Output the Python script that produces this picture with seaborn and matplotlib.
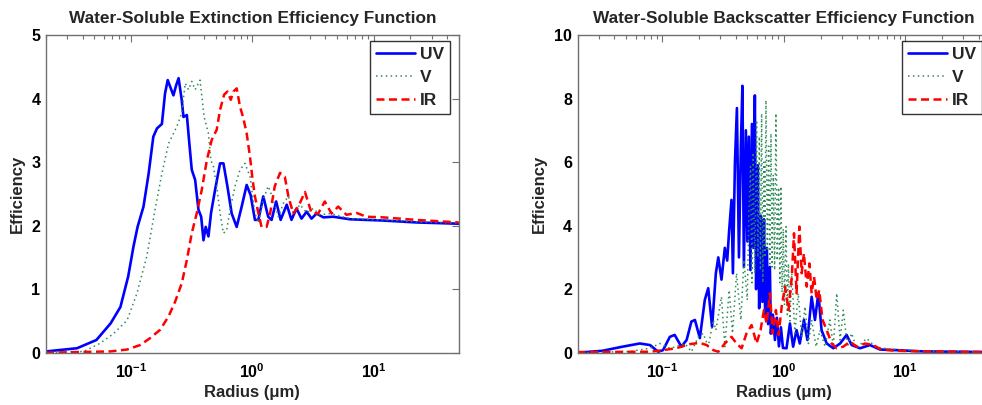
import matplotlib
matplotlib.use("Agg")
import matplotlib.pyplot as plt
import seaborn as sns
import pandas as pd
from matplotlib.ticker import LogLocator, FixedLocator, FixedFormatter, NullFormatter

# ---------------- data ----------------
# Extinction efficiency
ext_uv_r = [0.02, 0.036, 0.052, 0.068, 0.082, 0.095, 0.105, 0.1135, 0.127, 0.14, 0.153, 0.164, 0.18, 0.191, 0.201,
            0.213, 0.224, 0.236, 0.247, 0.262, 0.271, 0.289, 0.301, 0.317, 0.338, 0.36, 0.379, 0.396, 0.413, 0.435,
            0.457, 0.493, 0.542, 0.578, 0.623, 0.676, 0.743, 0.817, 0.898, 0.968, 1.05, 1.12, 1.23, 1.35, 1.44,
            1.57, 1.71, 1.92, 2.10, 2.31, 2.54, 2.80, 3.07, 3.38, 3.84, 4.63, 6.35, 11.9, 22.4, 50]
ext_uv = [0.02, 0.07, 0.2, 0.46, 0.72, 1.2, 1.67, 1.98, 2.3, 2.82, 3.4, 3.53, 3.6, 4.08, 4.29,
          4.16, 4.05, 4.21, 4.32, 3.98, 3.71, 3.74, 3.35, 2.88, 2.72, 2.25, 2.14, 1.77, 1.98, 1.83,
          2.2, 2.56, 2.98, 2.98, 2.62, 2.19, 1.98, 2.3, 2.64, 2.48, 2.09, 2.09, 2.46, 2.14, 2.09,
          2.38, 2.09, 2.33, 2.09, 2.27, 2.11, 2.22, 2.11, 2.19, 2.13, 2.14, 2.10, 2.08, 2.05, 2.03]

ext_v_r = [0.02, 0.041, 0.056, 0.072, 0.093, 0.112, 0.135, 0.158, 0.18, 0.204, 0.239, 0.262, 0.28, 0.298, 0.317,
           0.338, 0.371, 0.401, 0.435, 0.455, 0.478, 0.509, 0.542, 0.578, 0.615, 0.655, 0.72, 0.792, 0.87, 0.957,
           1.05, 1.12, 1.23, 1.35, 1.49, 1.64, 1.80, 1.98, 2.17, 2.47, 2.80, 3.17, 3.6, 4.35, 6.35, 11.9, 22.4, 50]
ext_v = [0.0, 0.02, 0.15, 0.3, 0.51, 0.93, 1.51, 2.25, 2.82, 3.29, 3.56, 3.77, 4.24, 4.14, 4.27,
         4.14, 4.29, 3.71, 3.45, 3.03, 2.93, 2.62, 2.2, 1.88, 1.93, 2.25, 2.62, 2.88, 2.98, 2.77,
         2.2, 2.04, 2.41, 2.62, 2.41, 2.14, 2.35, 2.46, 2.2, 2.33, 2.2, 2.27, 2.17, 2.19, 2.11, 2.09, 2.06, 2.04]

ext_ir_r = [0.02, 0.068, 0.093, 0.119, 0.144, 0.174, 0.204, 0.231, 0.262, 0.289, 0.317, 0.348, 0.383, 0.422, 0.463,
            0.509, 0.542, 0.585, 0.623, 0.664, 0.698, 0.743, 0.792, 0.843, 0.898, 0.957, 1.005, 1.05, 1.12, 1.19,
            1.31, 1.40, 1.53, 1.69, 1.85, 1.98, 2.17, 2.39, 2.71, 3.07, 3.48, 3.95, 4.49, 5.09, 5.96, 7.2, 8.7,
            11.9, 22.4, 50]
ext_ir = [0.0, 0.02, 0.05, 0.12, 0.23, 0.36, 0.57, 0.8, 1.09, 1.46, 1.88, 2.19, 2.56, 3.03, 3.35,
          3.51, 3.82, 4.06, 4.11, 3.98, 4.11, 4.16, 3.87, 3.69, 3.45, 3.08, 2.72, 2.46, 2.2, 1.98,
          1.98, 2.19, 2.62, 2.83, 2.77, 2.46, 2.19, 2.3, 2.53, 2.2, 2.19, 2.38, 2.19, 2.3, 2.17, 2.2, 2.14,
          2.13, 2.09, 2.05]

# Backscatter efficiency
bsc_uv_r = [0.02, 0.032, 0.047, 0.065, 0.079, 0.092, 0.101, 0.115, 0.126, 0.143, 0.158, 0.173, 0.185, 0.203, 0.223,
            0.238, 0.256, 0.275, 0.288, 0.306, 0.326, 0.341, 0.354, 0.37, 0.380, 0.395, 0.410, 0.426, 0.442, 0.455,
            0.468, 0.486, 0.50, 0.514, 0.53, 0.545, 0.56, 0.576, 0.59, 0.61, 0.625, 0.646, 0.665, 0.685, 0.70,
            0.724, 0.74, 0.766, 0.78, 0.811, 0.843, 0.875, 0.909, 0.944, 0.981,
            1.05, 1.12, 1.19, 1.27, 1.35, 1.46, 1.56, 1.69, 1.80, 1.92, 2.04, 2.25, 2.55, 2.90,
            3.28, 3.61, 4.23, 5.11, 6.18, 8.49, 14.1, 50]
bsc_uv = [0.0, 0.06, 0.19, 0.29, 0.24, 0.03, 0.08, 0.5, 0.56, 0.19, 0.4, 0.98, 1.03, 0.46, 1.66,
          2.03, 0.81, 2.5, 3.0, 2.3, 3.3, 2.9, 3.86, 4.81, 2.5, 6.0, 7.7, 3.0, 6.5, 8.4,
          2.7, 7.0, 3.5, 6.8, 2.6, 7.2, 3.3, 8.1, 2.0, 5.9, 1.4, 4.3, 1.6, 4.2, 1.2,
          3.3, 0.9, 2.7, 0.6, 1.2, 0.4, 1.1, 0.2, 0.8, 0.15,
          0.14, 0.92, 0.19, 0.71, 0.29, 1.03, 0.4, 1.76, 1.03, 1.87, 0.71, 0.29, 0.14, 0.29,
          0.56, 0.24, 0.14, 0.24, 0.1, 0.08, 0.04, 0.02]

bsc_v_r = [0.02, 0.054, 0.079, 0.095, 0.115, 0.130, 0.153, 0.173, 0.197, 0.216, 0.238, 0.262, 0.275, 0.306, 0.326,
           0.354, 0.377, 0.407, 0.442, 0.468, 0.499, 0.515, 0.531, 0.545, 0.558, 0.575, 0.595, 0.61, 0.627, 0.64,
           0.655, 0.67, 0.684, 0.697, 0.711, 0.73, 0.748, 0.765, 0.782, 0.80, 0.817, 0.838, 0.859, 0.88, 0.904,
           0.925, 0.944, 0.965, 0.988, 1.01, 1.04, 1.065, 1.09, 1.12, 1.16, 1.23, 1.31, 1.40, 1.49, 1.59, 1.69,
           1.84, 1.98, 2.18, 2.39, 2.55, 2.72, 2.90, 3.08, 3.33, 3.61, 3.97, 4.80, 5.62, 6.59, 8.49, 14.1, 50]
bsc_v = [0.0, 0.04, 0.14, 0.29, 0.14, 0.19, 0.29, 0.03, 0.5, 0.61, 0.19, 1.03, 0.71, 1.76, 0.19,
         1.97, 0.61, 2.5, 1.03, 2.92, 1.66, 4.5, 5.86, 2.2, 6.3, 2.5, 7.32, 3.0, 6.8, 2.6,
         7.53, 2.2, 6.0, 3.0, 7.95, 3.2, 6.5, 2.8, 6.9, 2.7, 5.6, 2.6, 7.53, 2.9, 5.2,
         2.2, 5.23, 1.9, 3.9, 1.5, 3.97, 1.2, 2.8, 1.0, 2.5, 0.61, 1.87, 0.5, 1.45, 0.29, 1.03,
         0.19, 0.71, 0.19, 1.03, 0.19, 1.87, 0.4, 1.34, 0.19, 0.61, 0.14, 0.45, 0.19, 0.14, 0.1, 0.05, 0.02]

bsc_ir_r = [0.02, 0.079, 0.101, 0.130, 0.168, 0.203, 0.231, 0.262, 0.288, 0.326, 0.37, 0.407, 0.448, 0.492, 0.541,
            0.595, 0.642, 0.684, 0.72, 0.767, 0.807, 0.859, 0.904, 0.958, 1.02, 1.09, 1.16, 1.21, 1.27, 1.34,
            1.40, 1.46, 1.54, 1.62, 1.69, 1.77, 1.86, 1.95, 2.08, 2.25, 2.47, 2.72, 3.08, 3.50, 3.97,
            4.66, 5.45, 6.3, 8.49, 14.1, 50]
bsc_ir = [0.02, 0.03, 0.08, 0.14, 0.27, 0.31, 0.24, 0.08, 0.03, 0.29, 0.5, 0.29, 0.14, 0.61, 0.87,
          0.29, 0.71, 1.34, 0.92, 1.87, 0.61, 1.34, 0.56, 1.45, 2.08, 1.34, 2.39, 3.76, 1.87, 3.97,
          2.5, 3.13, 2.08, 2.81, 1.87, 2.39, 1.66, 1.97, 1.03, 0.71, 0.29, 0.14, 0.19, 0.35, 0.19,
          0.29, 0.24, 0.1, 0.06, 0.04, 0.02]

series_names = ["UV", "V", "IR"]
titles = ["Water-Soluble Extinction Efficiency Function", "Water-Soluble Backscatter Efficiency Function"]
x_label = "Radius (\u03bcm)"
y_label = "Efficiency"
x_tick_values = [0.1, 1, 10]
x_tick_labels = [r"$\mathregular{10^{-1}}$", r"$\mathregular{10^{0}}$", r"$\mathregular{10^{1}}$"]
ext_y_ticks = [0, 1, 2, 3, 4, 5]
bsc_y_ticks = [0, 2, 4, 6, 8, 10]

# ---------------- style ----------------
sns.set_theme(style="white")
plt.rcParams["font.family"] = ["Liberation Sans", "DejaVu Sans"]
plt.rcParams["font.weight"] = "bold"
plt.rcParams["mathtext.fontset"] = "custom"
plt.rcParams["mathtext.rm"] = "Liberation Sans:bold"
plt.rcParams["mathtext.it"] = "Liberation Sans:bold"
plt.rcParams["mathtext.bf"] = "Liberation Sans:bold"

styles = {
    "UV": dict(color="#0000ff", linestyle="-", linewidth=1.9),
    "V": dict(color="#2e8b57", linestyle=(0, (1, 2.2)), linewidth=1.1),
    "IR": dict(color="#ff0000", linestyle=(0, (3.2, 1.8)), linewidth=1.8),
}

W, H = 982, 405
AX_W, AX_H = 412.7, 317.7
fig = plt.figure(figsize=(W / 100, H / 100), dpi=100)
ax1 = fig.add_axes([46 / W, (H - 352.7) / H, AX_W / W, AX_H / H])
ax2 = fig.add_axes([577.6 / W, (H - 352.7) / H, AX_W / W, AX_H / H])

panels = [
    (ax1, [(ext_uv_r, ext_uv), (ext_v_r, ext_v), (ext_ir_r, ext_ir)], ext_y_ticks, titles[0]),
    (ax2, [(bsc_uv_r, bsc_uv), (bsc_v_r, bsc_v), (bsc_ir_r, bsc_ir)], bsc_y_ticks, titles[1]),
]

spine_col = "#707070"
for ax, data, yt, title in panels:
    for name, (xr, yv) in zip(series_names, data):
        df = pd.DataFrame({"r": xr, "e": yv})
        sns.lineplot(data=df, x="r", y="e", ax=ax, label=name, sort=False,
                     estimator=None, **styles[name])
    ax.set_xscale("log")
    ax.set_xlim(0.02, 50)
    ax.set_ylim(yt[0], yt[-1])
    ax.xaxis.set_major_locator(FixedLocator(x_tick_values))
    ax.xaxis.set_major_formatter(FixedFormatter(x_tick_labels))
    ax.xaxis.set_minor_locator(LogLocator(base=10, subs=range(2, 10), numticks=20))
    ax.xaxis.set_minor_formatter(NullFormatter())
    ax.set_yticks(yt)
    ax.set_yticklabels([str(v) for v in yt])
    ax.tick_params(axis="both", which="both", direction="in", top=True, right=True,
                   color=spine_col, labelsize=11.5, labelcolor="black")
    ax.tick_params(axis="both", which="major", length=5, width=0.8, pad=4)
    ax.tick_params(axis="x", which="minor", length=3, width=0.8)
    ax.tick_params(axis="x", which="major", pad=7)
    for s in ax.spines.values():
        s.set_color(spine_col)
        s.set_linewidth(1.0)
    ax.set_xlabel(x_label, fontsize=12, fontweight="bold", labelpad=3)
    ax.set_ylabel(y_label, fontsize=12, fontweight="bold", labelpad=5)
    ax.set_title(title, fontsize=12.4, fontweight="bold", pad=9)
    leg = ax.legend(loc="upper right", bbox_to_anchor=(1 - 8.7 / AX_W, 1 - 6 / AX_H),
                    borderaxespad=0, fontsize=12.5, frameon=True, fancybox=False,
                    handlelength=2.25, handletextpad=0.3, borderpad=0.32, labelspacing=0.46)
    leg.get_frame().set_edgecolor("black")
    leg.get_frame().set_linewidth(1.0)
    for t in leg.get_texts():
        t.set_fontweight("bold")

fig.savefig("out.png", dpi=100)
